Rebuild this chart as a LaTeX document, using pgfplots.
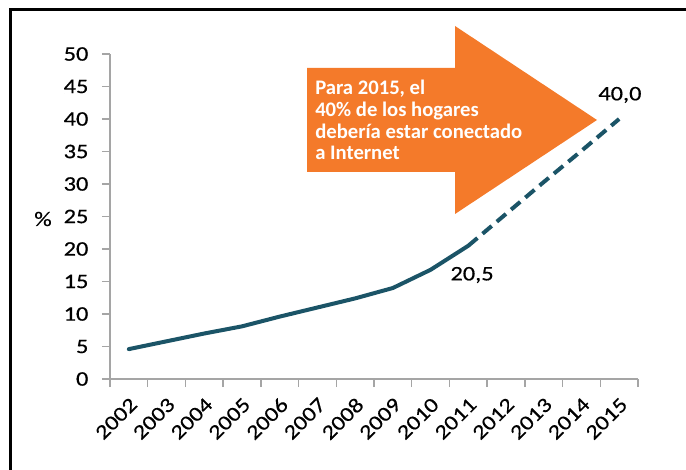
\documentclass[border=0pt]{standalone}
\usepackage{fontspec}
\setmainfont{Carlito}
\newfontfamily\widefont{Carlito}[FakeStretch=1.18, FakeBold=0.5]
\usepackage{pgfplots}
\pgfplotsset{compat=1.18}
\definecolor{lineblue}{RGB}{27,84,103}
\definecolor{arroworange}{RGB}{244,122,42}
\definecolor{axisgray}{RGB}{165,165,165}

\begin{document}
\begin{tikzpicture}
\path[use as bounding box] (0,0) rectangle (514.5pt,-352.5pt);
\clip (0,0) rectangle (514.5pt,-352.5pt);

% arrow and frame, in pixel units of the reference
\begin{scope}[x=0.75pt,y=-0.75pt]
  \fill[arroworange] (307,68) -- (455,68) -- (455,26) -- (597,120)
    -- (455,214) -- (455,172) -- (307,172) -- cycle;
  \begin{scope}[every node/.style={anchor=base west, inner sep=0pt, text=white,
      font=\fontsize{15.5}{17}\bfseries\selectfont}]
    \node at (315,95) {Para 2015, el};
    \node at (315,116.7) {40\% de los hogares};
    \node at (315,138.3) {debería estar conectado};
    \node at (315,160) {a Internet};
  \end{scope}
  \draw[line width=2.25pt] (10,10) rectangle (700,490);
  \node[font=\widefont\fontsize{15.5}{18}\selectfont] at (43,219) {\%};
\end{scope}

\begin{axis}[
  at={(82.5pt,-284.25pt)}, anchor=south west,
  scale only axis, width=396pt, height=243.75pt,
  xmin=-0.5, xmax=13.5, ymin=0, ymax=50,
  axis lines*=left,
  axis line style={axisgray, line width=1.1pt},
  tick align=outside, major tick length=6pt,
  tick style={axisgray, line width=1.1pt},
  ytick={0,5,...,50},
  xtick={-0.5,0.5,1.5,2.5,3.5,4.5,5.5,6.5,7.5,8.5,9.5,10.5,11.5,12.5,13.5},
  xticklabels={},
  extra x ticks={0,1,2,3,4,5,6,7,8,9,10,11,12,13},
  extra x tick labels={2002,2003,2004,2005,2006,2007,2008,2009,2010,2011,2012,2013,2014,2015},
  extra x tick style={major tick length=0pt,
    xticklabel style={inner sep=0pt, anchor=east, xshift=3.75pt, yshift=-16.5pt, rotate=45}},
  tick label style={font=\widefont\fontsize{15.5}{18}\selectfont},
  yticklabel style={anchor=east, inner sep=0pt, xshift=-10pt},
  /pgf/number format/assume math mode=true,
  clip=false,
]
\addplot[lineblue, line width=3pt, line join=round, line cap=round] coordinates {
  (0,4.6) (1,5.8) (2,7.0) (3,8.1) (4,9.6) (5,11.0) (6,12.4) (7,14.0) (8,16.8) (9,20.5)
};
\addplot[lineblue, line width=3pt, dash pattern=on 9pt off 5pt] coordinates {
  (9,20.5) (10,25.4) (11,30.3) (12,35.1) (13,40.0)
};
\node[font=\widefont\fontsize{15.5}{18}\selectfont] at (axis cs:9.1,16.0) {20,5};
\node[font=\widefont\fontsize{15.5}{18}\selectfont] at (axis cs:13.02,43.7) {40,0};
\end{axis}
\end{tikzpicture}
\end{document}
